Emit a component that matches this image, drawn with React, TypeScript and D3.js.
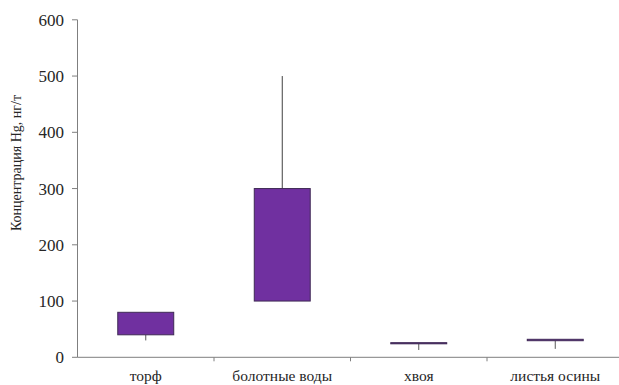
import React from "react";
import * as d3 from "d3";

// Hg concentration box plot by sample type
const categories = ["торф", "болотные воды", "хвоя", "листья осины"];
const q1Values = [40, 100, 24, 29.5];
const q3Values = [80, 300, 26, 32];
const minValues = [30, 100, 13, 15];
const maxValues = [80, 500, 26, 32];
const yTicks = [0, 100, 200, 300, 400, 500, 600];
const yTitle = "Концентрация Hg, нг/т";

const W = 619;
const H = 385;

export default function App() {
  const x = d3.scaleBand<string>().domain(categories).range([77.5, 623.5]).padding(0);
  const y = d3.scaleLinear().domain([0, 600]).range([357.3, 19.8]);
  const boxW = x.bandwidth() * 0.41;
  const font = "'Liberation Serif', 'Times New Roman', serif";
  const axisColor = "#7f7f7f";
  const textColor = "#262626";

  return (
    <svg
      width={W}
      height={H}
      style={{ position: "absolute", left: 0, top: 0, background: "#fff" }}
    >
      {/* y axis */}
      <line x1={77.5} x2={77.5} y1={y(600)} y2={y(0)} stroke={axisColor} strokeWidth={1} />
      {yTicks.map((t) => (
        <g key={t}>
          <line x1={72} x2={77.5} y1={y(t)} y2={y(t)} stroke={axisColor} strokeWidth={1} />
          <text
            x={64}
            y={y(t)}
            dy="0.35em"
            textAnchor="end"
            fontFamily={font}
            fontSize={17}
            fill={textColor}
          >
            {t}
          </text>
        </g>
      ))}
      <text
        transform={`translate(21,163) rotate(-90)`}
        textAnchor="middle"
        fontFamily={font}
        fontSize={14}
        fill={textColor}
      >
        {yTitle}
      </text>

      {/* x axis */}
      <line x1={77.5} x2={W} y1={y(0)} y2={y(0)} stroke={axisColor} strokeWidth={1} />
      {categories.map((c) => (
        <line
          key={`t-${c}`}
          x1={(x(c) ?? 0) + x.bandwidth()}
          x2={(x(c) ?? 0) + x.bandwidth()}
          y1={y(0)}
          y2={y(0) + 4}
          stroke={axisColor}
          strokeWidth={1}
        />
      ))}
      {categories.map((c) => (
        <text
          key={`l-${c}`}
          x={(x(c) ?? 0) + x.bandwidth() / 2}
          y={381}
          textAnchor="middle"
          fontFamily={font}
          fontSize={15.5}
          fill={textColor}
        >
          {c}
        </text>
      ))}

      {/* boxes and whiskers */}
      {categories.map((c, i) => {
        const cx = (x(c) ?? 0) + x.bandwidth() / 2;
        const top = y(q3Values[i]);
        const bottom = y(q1Values[i]);
        return (
          <g key={`b-${c}`}>
            {maxValues[i] > q3Values[i] && (
              <line x1={cx} x2={cx} y1={y(maxValues[i])} y2={top} stroke="#404040" strokeWidth={1} />
            )}
            {minValues[i] < q1Values[i] && (
              <line x1={cx} x2={cx} y1={bottom} y2={y(minValues[i])} stroke="#595959" strokeWidth={1} />
            )}
            <rect
              x={cx - boxW / 2}
              y={top}
              width={boxW}
              height={Math.max(bottom - top, 0.5)}
              fill="#7030a0"
              stroke="#3f2a55"
              strokeWidth={1}
            />
          </g>
        );
      })}
    </svg>
  );
}
